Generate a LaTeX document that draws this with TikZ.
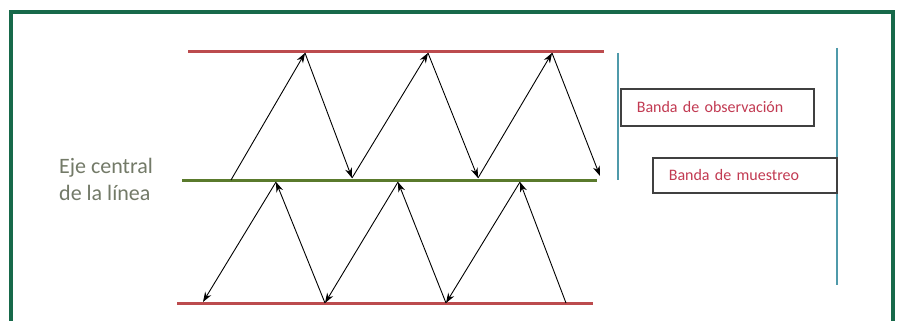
\documentclass[tikz,border=0pt]{standalone}
\usepackage{fontspec}
\setmainfont{Carlito}
\usetikzlibrary{arrows.meta}
\definecolor{framegreen}{HTML}{17694A}
\definecolor{bandred}{HTML}{BC4B4E}
\definecolor{axisgreen}{HTML}{5A7A2C}
\definecolor{tealline}{HTML}{4F9AAA}
\definecolor{labelgray}{HTML}{737A68}
\definecolor{txtred}{HTML}{C23A52}
\tikzset{
  arr/.style={draw=black, line width=0.9pt, -{Stealth[length=10pt,width=7pt]}},
  bandline/.style={line width=3pt, draw=bandred},
  axisline/.style={line width=3pt, draw=axisgreen},
  vline/.style={line width=1.6pt, draw=tealline},
  labbox/.style={draw=black!75, line width=1.6pt, inner xsep=16pt, align=left, text=txtred, font=\fontsize{16}{18}\selectfont, anchor=west},
}
\begin{document}
\begin{tikzpicture}[x=1pt,y=-1pt]
\useasboundingbox (0,0) rectangle (898,321);
\clip (0,0) rectangle (898,321);
\fill[white] (0,0) rectangle (898,321);
\draw[framegreen, line width=3.5pt] (11,340) -- (11,12) -- (893,12) -- (893,340);
% band lines
\draw[bandline] (188,52) -- (604,52);
\draw[axisline] (182,180) -- (597,180);
\draw[bandline] (177,303) -- (593,303);
% zigzag points
\coordinate (S0) at (231,180);
\coordinate (T1) at (305,53);
\coordinate (T2) at (428,53);
\coordinate (T3) at (552,53);
\coordinate (M1) at (352,178);
\coordinate (M2) at (478,178);
\coordinate (M3) at (600,176);
\coordinate (L1) at (276,182);
\coordinate (L2) at (398,182);
\coordinate (L3) at (520,182);
\coordinate (B0) at (203,302);
\coordinate (B1) at (325,303);
\coordinate (B2) at (446,303);
\coordinate (B3) at (566,303);
\draw[arr] (S0) -- (T1);
\draw[arr] (T1) -- (M1);
\draw[arr] (M1) -- (T2);
\draw[arr] (T2) -- (M2);
\draw[arr] (M2) -- (T3);
\draw[arr] (T3) -- (M3);
\draw[arr] (L1) -- (B0);
\draw[arr] (B1) -- (L1);
\draw[arr] (L2) -- (B1);
\draw[arr] (B2) -- (L2);
\draw[arr] (L3) -- (B2);
\draw[arr] (B3) -- (L3);
% vertical lines
\coordinate (V1a) at (618,53);
\coordinate (V1b) at (618,180);
\coordinate (V2a) at (837,48);
\coordinate (V2b) at (837,285);
\draw[vline] (V1a) -- (V1b);
\draw[vline] (V2a) -- (V2b);
% label boxes
\node[labbox, minimum width=193pt, minimum height=37pt, text width=161pt] (obs) at (620,107.5) {Banda de observación};
\node[labbox, minimum width=184pt, minimum height=35pt, text width=152pt] (mue) at (652,175.5) {Banda de muestreo};
% axis label
\node[text=labelgray, font=\fontsize{22}{27}\selectfont, align=left, anchor=west, inner sep=0pt] (eje) at (59,179) {Eje central\\de la línea};
\end{tikzpicture}
\end{document}
